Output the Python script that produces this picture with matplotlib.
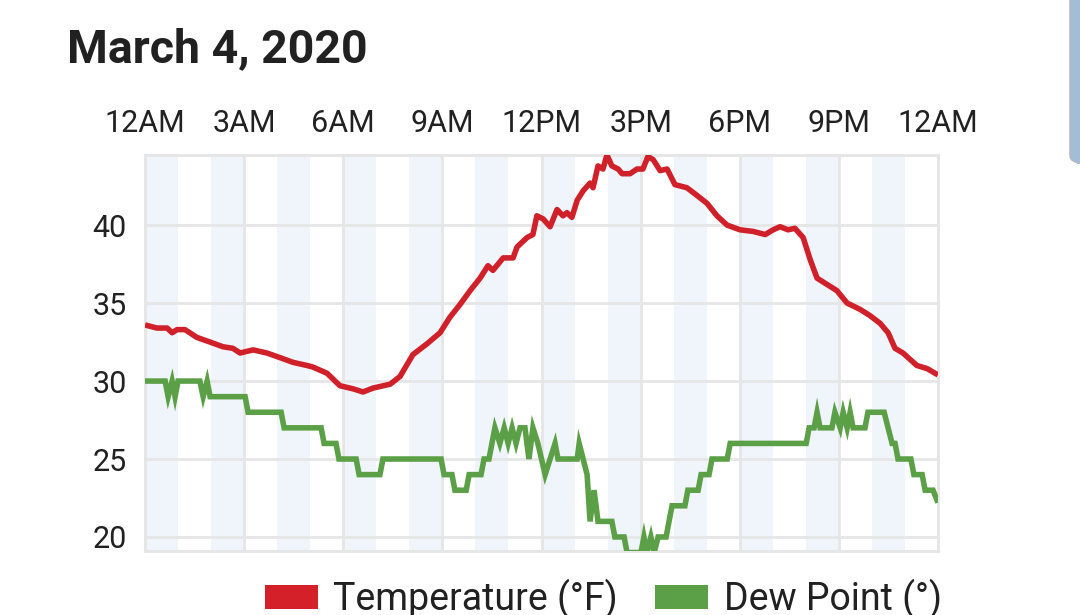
import matplotlib
matplotlib.use("Agg")
import matplotlib.pyplot as plt
from matplotlib.patches import Patch, FancyBboxPatch

plt.rcParams['font.family'] = ['Roboto', 'DejaVu Sans']

# hours since midnight
temp_hours = [0.00, 0.36, 0.67, 0.82, 0.97, 1.21, 1.57, 1.97, 2.36, 2.66, 2.88, 3.27,
              3.69, 4.09, 4.48, 4.90, 5.08, 5.51, 5.90, 6.30, 6.60, 6.90, 7.42, 7.72,
              8.11, 8.54, 8.93, 9.23, 9.53, 9.84, 10.14, 10.38, 10.53, 10.84, 11.14, 11.26,
              11.56, 11.74, 11.86, 12.05, 12.26, 12.47, 12.65, 12.77, 12.92, 13.08, 13.26, 13.47,
              13.56, 13.71, 13.86, 13.98, 14.13, 14.32, 14.44, 14.68, 14.89, 15.07, 15.22, 15.38,
              15.59, 15.80, 16.04, 16.40, 16.71, 17.01, 17.31, 17.62, 18.01, 18.40, 18.77, 19.01,
              19.22, 19.46, 19.67, 19.92, 20.13, 20.34, 20.64, 20.94, 21.25, 21.64, 21.94, 22.25,
              22.49, 22.70, 22.94, 23.36, 23.67, 23.91, 24.00]
temp_values = [33.6, 33.4, 33.4, 33.1, 33.3, 33.3, 32.8, 32.5, 32.2, 32.1, 31.8, 32.0,
               31.8, 31.5, 31.2, 31.0, 30.9, 30.5, 29.7, 29.5, 29.3, 29.55, 29.8, 30.3,
               31.7, 32.4, 33.1, 34.1, 34.9, 35.8, 36.6, 37.4, 37.1, 37.9, 37.9, 38.6,
               39.2, 39.4, 40.6, 40.4, 39.9, 41.0, 40.6, 40.8, 40.5, 41.6, 42.2, 42.7,
               42.4, 43.8, 43.6, 44.5, 43.8, 43.6, 43.3, 43.3, 43.6, 43.6, 44.4, 44.2,
               43.5, 43.6, 42.6, 42.4, 41.9, 41.4, 40.6, 40.0, 39.7, 39.6, 39.4, 39.7,
               39.9, 39.7, 39.8, 39.2, 37.8, 36.6, 36.2, 35.8, 35.0, 34.6, 34.2, 33.7,
               33.1, 32.1, 31.8, 31.0, 30.8, 30.5, 30.4]

dew_hours = [0.00, 0.61, 0.70, 0.82, 0.91, 1.00, 1.66, 1.76, 1.88, 1.97, 3.03, 3.12,
             4.12, 4.21, 5.33, 5.42, 5.78, 5.87, 6.39, 6.48, 7.11, 7.20, 8.96, 9.05,
             9.29, 9.38, 9.72, 9.81, 10.17, 10.26, 10.41, 10.50, 10.59, 10.74, 10.87, 10.99,
             11.11, 11.23, 11.35, 11.50, 11.62, 11.74, 11.89, 12.11, 12.26, 12.41, 12.50, 13.08,
             13.14, 13.26, 13.38, 13.47, 13.59, 13.71, 14.13, 14.22, 14.50, 14.59, 15.01, 15.10,
             15.19, 15.31, 15.41, 15.53, 15.77, 15.86, 15.95, 16.34, 16.43, 16.74, 16.83, 17.07,
             17.16, 17.62, 17.71, 20.01, 20.10, 20.25, 20.34, 20.43, 20.79, 20.88, 21.04, 21.13,
             21.25, 21.34, 21.43, 21.79, 21.88, 22.37, 22.49, 22.61, 22.70, 22.79, 23.18, 23.27,
             23.52, 23.61, 23.85, 24.00]
dew_values = [30, 30, 29, 30, 29, 30, 30, 29, 30, 29, 29, 28,
              28, 27, 27, 26, 26, 25, 25, 24, 24, 25, 25, 24,
              24, 23, 23, 24, 24, 25, 25, 26, 27, 26, 27, 26,
              27, 26, 27, 27, 25, 27, 26, 24, 25, 26, 25, 25,
              26, 25, 24, 21, 23, 21, 21, 20, 20, 19, 19, 20,
              19, 20, 19, 20, 20, 21, 22, 22, 23, 23, 24, 24,
              25, 25, 26, 26, 27, 27, 28, 27, 27, 28, 27, 28,
              27, 28, 27, 27, 28, 28, 27, 26, 26, 25, 25, 24,
              24, 23, 23, 22.2]

tick_hours = [0, 3, 6, 9, 12, 15, 18, 21, 24]
tick_labels = ["12AM", "3AM", "6AM", "9AM", "12PM", "3PM", "6PM", "9PM", "12AM"]
y_ticks = [20, 25, 30, 35, 40]

TEMP_COLOR = '#d0202a'
DEW_COLOR = '#5b9f47'
GRID_COLOR = '#e6e6e6'
TEXT_COLOR = '#212121'

fig = plt.figure(figsize=(10.8, 6.15), dpi=100)
ax = fig.add_axes([145 / 1080, 64 / 615, 793 / 1080, 396 / 615])

# alternating hour bands
for h in range(0, 24, 2):
    ax.axvspan(h, h + 1, color='#eff5fa', lw=0, zorder=0)

ax.plot(temp_hours, temp_values, color=TEMP_COLOR, lw=4.0, zorder=3,
        solid_joinstyle='round', solid_capstyle='butt')
ax.plot(dew_hours, dew_values, color=DEW_COLOR, lw=4.0, zorder=3,
        solid_joinstyle='miter', solid_capstyle='butt')

ax.set_xlim(0, 24)
ax.set_ylim(19.1, 44.5)
ax.set_xticks(tick_hours)
ax.set_xticklabels(tick_labels)
ax.set_yticks(y_ticks)
ax.xaxis.tick_top()
ax.tick_params(axis='x', length=0, pad=12, labelsize=22, labelcolor=TEXT_COLOR)
ax.tick_params(axis='y', length=0, pad=13, labelsize=22, labelcolor=TEXT_COLOR)
ax.grid(True, color=GRID_COLOR, lw=2.0, zorder=1)
ax.set_axisbelow(True)
for side in ax.spines:
    ax.spines[side].set_color(GRID_COLOR)
    ax.spines[side].set_linewidth(2.2)

fig.text(67 / 1080, 1 - 62 / 615, "March 4, 2020", fontsize=33.5, weight='bold',
         color=TEXT_COLOR, ha='left', va='baseline')

handles = [Patch(facecolor='#d42029', edgecolor='none', label='Temperature (°F)'),
           Patch(facecolor='#5b9f47', edgecolor='none', label='Dew Point (°)')]
fig.legend(handles=handles, loc='lower left', bbox_to_anchor=(265 / 1080, -4 / 615),
           ncol=2, frameon=False, fontsize=27, handlelength=1.4, handleheight=0.6,
           handletextpad=0.42, columnspacing=1.0, borderpad=0, borderaxespad=0,
           labelcolor=TEXT_COLOR)

# scrollbar-like element at the right edge of the screenshot
fig.patches.append(FancyBboxPatch((1070 / 1080, 0.735), 20 / 1080, 0.30,
                                  boxstyle="round,pad=0,rounding_size=0.012",
                                  transform=fig.transFigure, facecolor='#a3bdd6',
                                  edgecolor='#b0b8c0', lw=1.0))

fig.savefig("out.png", dpi=100)
